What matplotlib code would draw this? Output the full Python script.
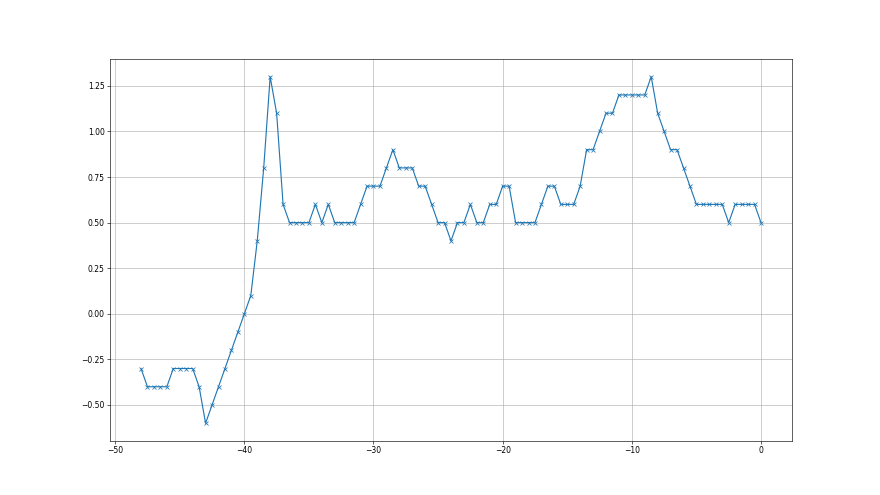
import numpy as np
import matplotlib
matplotlib.use("Agg")
import matplotlib.pyplot as plt

# sample positions, every half step from -48 to 0
x = np.arange(-48, 0.5, 0.5)

y = [
    -0.3, -0.4, -0.4, -0.4, -0.4, -0.3, -0.3, -0.3, -0.3, -0.4,
    -0.6, -0.5, -0.4, -0.3, -0.2, -0.1, 0.0, 0.1, 0.4, 0.8,
    1.3, 1.1, 0.6, 0.5, 0.5, 0.5, 0.5, 0.6, 0.5, 0.6,
    0.5, 0.5, 0.5, 0.5, 0.6, 0.7, 0.7, 0.7, 0.8, 0.9,
    0.8, 0.8, 0.8, 0.7, 0.7, 0.6, 0.5, 0.5, 0.4, 0.5,
    0.5, 0.6, 0.5, 0.5, 0.6, 0.6, 0.7, 0.7, 0.5, 0.5,
    0.5, 0.5, 0.6, 0.7, 0.7, 0.6, 0.6, 0.6, 0.7, 0.9,
    0.9, 1.0, 1.1, 1.1, 1.2, 1.2, 1.2, 1.2, 1.2, 1.3,
    1.1, 1.0, 0.9, 0.9, 0.8, 0.7, 0.6, 0.6, 0.6, 0.6,
    0.6, 0.5, 0.6, 0.6, 0.6, 0.6, 0.5,
]

plt.figure(figsize=(16, 9), dpi=55)
plt.plot(x, y, marker="x")
plt.grid(True)
plt.savefig("out.png", dpi=55)
